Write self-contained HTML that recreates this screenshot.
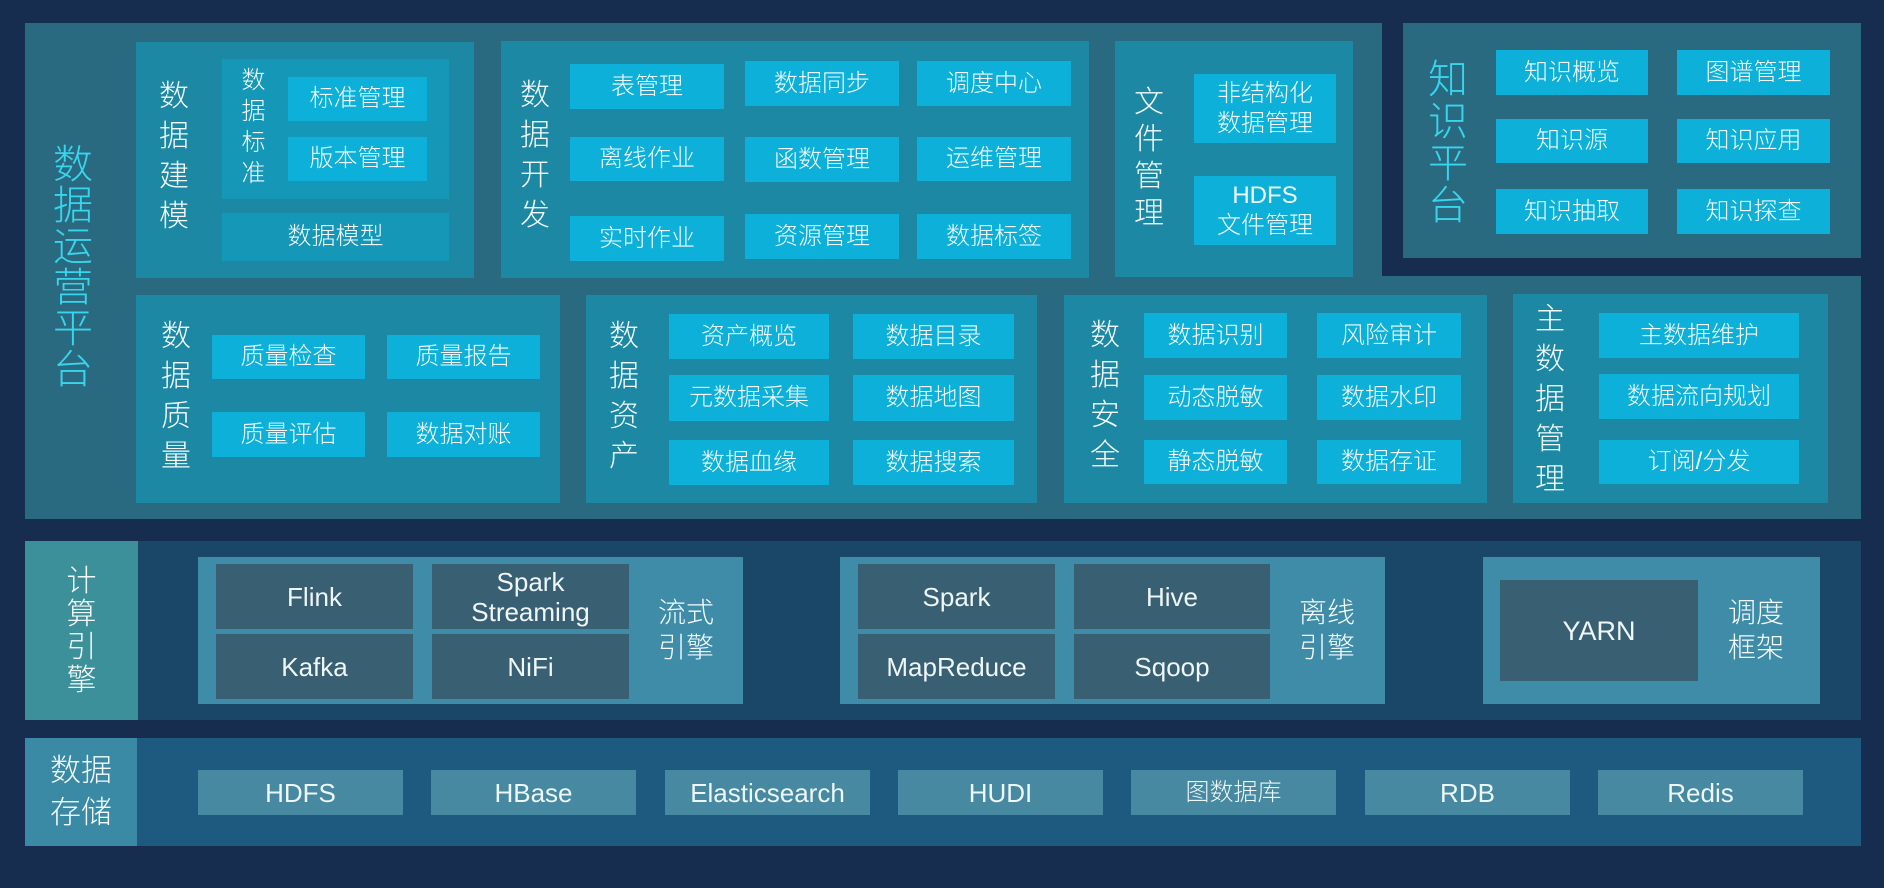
<!DOCTYPE html>
<html><head><meta charset="utf-8">
<style>
*{margin:0;padding:0;box-sizing:border-box}
html,body{width:1884px;height:888px;overflow:hidden;background:#172d4f}
body{position:relative;font-family:"Liberation Sans","Noto Sans CJK SC",sans-serif;color:#f2f9fc}
.a{position:absolute}
.b{position:absolute;display:flex;align-items:center;justify-content:center;text-align:center;font-size:24px;line-height:30px;color:#f4fbfd;font-weight:300}
.i{background:#0cb0d8}
.g{background:#1d88a4}
.v{position:absolute;text-align:center;font-weight:300;color:#f4fbfd}
.e{background:#385f72;font-size:26px;color:#eef6f8}
.s{background:#4689a0;font-size:26px;color:#eef6f8;top:770px;width:205px;height:45px}
</style></head><body>

<!-- 数据运营平台 outer -->
<div class="a" style="left:25px;top:23px;width:1357px;height:262px;background:#2a6a80"></div>
<div class="a" style="left:25px;top:276px;width:1836px;height:243px;background:#2a6a80"></div>
<div class="v" style="left:50px;top:145px;width:46px;font-size:40px;line-height:41px;color:#38d6ee">数<br>据<br>运<br>营<br>平<br>台</div>

<!-- 知识平台 -->
<div class="a" style="left:1403px;top:23px;width:458px;height:235px;background:#2a6a80"></div>
<div class="v" style="left:1426px;top:59px;width:44px;font-size:40px;line-height:42px;color:#38d6ee">知<br>识<br>平<br>台</div>
<div class="b i" style="left:1496px;top:50px;width:152px;height:45px">知识概览</div>
<div class="b i" style="left:1677px;top:50px;width:153px;height:45px">图谱管理</div>
<div class="b i" style="left:1496px;top:119px;width:152px;height:44px">知识源</div>
<div class="b i" style="left:1677px;top:119px;width:153px;height:44px">知识应用</div>
<div class="b i" style="left:1496px;top:189px;width:152px;height:45px">知识抽取</div>
<div class="b i" style="left:1677px;top:189px;width:153px;height:45px">知识探查</div>

<!-- 数据建模 -->
<div class="a g" style="left:136px;top:42px;width:338px;height:236px"></div>
<div class="v" style="left:157px;top:77px;width:34px;font-size:30px;line-height:40px">数<br>据<br>建<br>模</div>
<div class="a" style="left:222px;top:59px;width:227px;height:140px;background:#1597b8"></div>
<div class="v" style="left:240px;top:65px;width:27px;font-size:24px;line-height:31px">数<br>据<br>标<br>准</div>
<div class="b i" style="left:288px;top:77px;width:139px;height:44px">标准管理</div>
<div class="b i" style="left:288px;top:137px;width:139px;height:44px">版本管理</div>
<div class="b" style="left:222px;top:213px;width:227px;height:48px;background:#1597b8">数据模型</div>

<!-- 数据开发 -->
<div class="a g" style="left:501px;top:41px;width:588px;height:237px"></div>
<div class="v" style="left:518px;top:76px;width:34px;font-size:30px;line-height:40px">数<br>据<br>开<br>发</div>
<div class="b i" style="left:570px;top:64px;width:154px;height:45px">表管理</div>
<div class="b i" style="left:570px;top:137px;width:154px;height:44px">离线作业</div>
<div class="b i" style="left:570px;top:216px;width:154px;height:45px">实时作业</div>
<div class="b i" style="left:745px;top:61px;width:154px;height:45px">数据同步</div>
<div class="b i" style="left:745px;top:137px;width:154px;height:45px">函数管理</div>
<div class="b i" style="left:745px;top:214px;width:154px;height:45px">资源管理</div>
<div class="b i" style="left:917px;top:61px;width:154px;height:45px">调度中心</div>
<div class="b i" style="left:917px;top:137px;width:154px;height:44px">运维管理</div>
<div class="b i" style="left:917px;top:214px;width:154px;height:45px">数据标签</div>

<!-- 文件管理 -->
<div class="a g" style="left:1115px;top:41px;width:238px;height:236px"></div>
<div class="v" style="left:1132px;top:84px;width:34px;font-size:30px;line-height:37px">文<br>件<br>管<br>理</div>
<div class="b i" style="left:1194px;top:74px;width:142px;height:69px">非结构化<br>数据管理</div>
<div class="b i" style="left:1194px;top:176px;width:142px;height:69px">HDFS<br>文件管理</div>

<!-- 数据质量 -->
<div class="a g" style="left:136px;top:295px;width:424px;height:208px"></div>
<div class="v" style="left:159px;top:317px;width:34px;font-size:30px;line-height:40px">数<br>据<br>质<br>量</div>
<div class="b i" style="left:212px;top:335px;width:153px;height:44px">质量检查</div>
<div class="b i" style="left:387px;top:335px;width:153px;height:44px">质量报告</div>
<div class="b i" style="left:212px;top:412px;width:153px;height:45px">质量评估</div>
<div class="b i" style="left:387px;top:412px;width:153px;height:45px">数据对账</div>

<!-- 数据资产 -->
<div class="a g" style="left:586px;top:295px;width:451px;height:208px"></div>
<div class="v" style="left:607px;top:317px;width:34px;font-size:30px;line-height:40px">数<br>据<br>资<br>产</div>
<div class="b i" style="left:669px;top:314px;width:160px;height:45px">资产概览</div>
<div class="b i" style="left:853px;top:314px;width:161px;height:45px">数据目录</div>
<div class="b i" style="left:669px;top:375px;width:160px;height:46px">元数据采集</div>
<div class="b i" style="left:853px;top:375px;width:161px;height:46px">数据地图</div>
<div class="b i" style="left:669px;top:440px;width:160px;height:45px">数据血缘</div>
<div class="b i" style="left:853px;top:440px;width:161px;height:45px">数据搜索</div>

<!-- 数据安全 -->
<div class="a g" style="left:1064px;top:295px;width:423px;height:208px"></div>
<div class="v" style="left:1088px;top:316px;width:34px;font-size:30px;line-height:40px">数<br>据<br>安<br>全</div>
<div class="b i" style="left:1144px;top:313px;width:143px;height:45px">数据识别</div>
<div class="b i" style="left:1317px;top:313px;width:144px;height:45px">风险审计</div>
<div class="b i" style="left:1144px;top:375px;width:143px;height:45px">动态脱敏</div>
<div class="b i" style="left:1317px;top:375px;width:144px;height:45px">数据水印</div>
<div class="b i" style="left:1144px;top:440px;width:143px;height:44px">静态脱敏</div>
<div class="b i" style="left:1317px;top:440px;width:144px;height:44px">数据存证</div>

<!-- 主数据管理 -->
<div class="a g" style="left:1513px;top:294px;width:315px;height:209px"></div>
<div class="v" style="left:1533px;top:300px;width:34px;font-size:30px;line-height:40px">主<br>数<br>据<br>管<br>理</div>
<div class="b i" style="left:1599px;top:313px;width:200px;height:45px">主数据维护</div>
<div class="b i" style="left:1599px;top:374px;width:200px;height:45px">数据流向规划</div>
<div class="b i" style="left:1599px;top:440px;width:200px;height:44px">订阅/分发</div>

<!-- 计算引擎 -->
<div class="a" style="left:25px;top:541px;width:1836px;height:179px;background:#1a4767"></div>
<div class="b" style="left:25px;top:541px;width:113px;height:179px;background:#3b9099;font-size:30px;line-height:33px">计<br>算<br>引<br>擎</div>

<div class="a" style="left:198px;top:557px;width:545px;height:147px;background:#3f8ca8"></div>
<div class="b e" style="left:216px;top:564px;width:197px;height:65px">Flink</div>
<div class="b e" style="left:432px;top:564px;width:197px;height:65px">Spark<br>Streaming</div>
<div class="b e" style="left:216px;top:634px;width:197px;height:65px">Kafka</div>
<div class="b e" style="left:432px;top:634px;width:197px;height:65px">NiFi</div>
<div class="b" style="left:652px;top:595px;width:68px;height:70px;font-size:28px;line-height:35px">流式<br>引擎</div>

<div class="a" style="left:840px;top:557px;width:545px;height:147px;background:#3f8ca8"></div>
<div class="b e" style="left:858px;top:564px;width:197px;height:65px">Spark</div>
<div class="b e" style="left:1074px;top:564px;width:196px;height:65px">Hive</div>
<div class="b e" style="left:858px;top:634px;width:197px;height:65px">MapReduce</div>
<div class="b e" style="left:1074px;top:634px;width:196px;height:65px">Sqoop</div>
<div class="b" style="left:1293px;top:595px;width:68px;height:70px;font-size:28px;line-height:35px">离线<br>引擎</div>

<div class="a" style="left:1483px;top:557px;width:337px;height:147px;background:#3f8ca8"></div>
<div class="b e" style="left:1500px;top:580px;width:198px;height:101px;font-size:27px">YARN</div>
<div class="b" style="left:1722px;top:595px;width:68px;height:70px;font-size:28px;line-height:35px">调度<br>框架</div>

<!-- 数据存储 -->
<div class="a" style="left:25px;top:738px;width:1836px;height:108px;background:#1e5a80"></div>
<div class="b" style="left:25px;top:738px;width:112px;height:108px;background:#3a8aa6;font-size:31px;line-height:42px">数据<br>存储</div>
<div class="b s" style="left:198px">HDFS</div>
<div class="b s" style="left:431px">HBase</div>
<div class="b s" style="left:665px">Elasticsearch</div>
<div class="b s" style="left:898px">HUDI</div>
<div class="b s" style="left:1131px;font-size:24px">图数据库</div>
<div class="b s" style="left:1365px">RDB</div>
<div class="b s" style="left:1598px">Redis</div>

</body></html>
